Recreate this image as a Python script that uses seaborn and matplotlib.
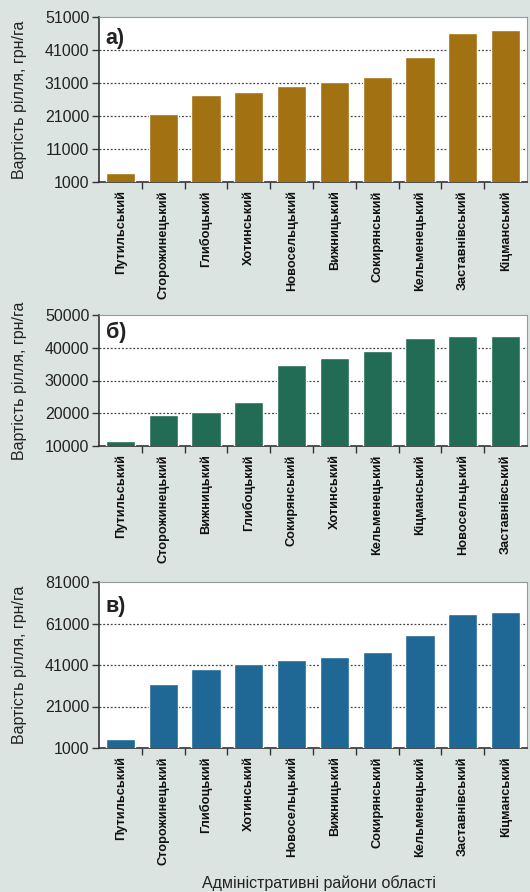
import numpy as np
import pandas as pd
import matplotlib
matplotlib.use("Agg")
import matplotlib.pyplot as plt
import seaborn as sns
from matplotlib.ticker import FixedLocator

sns.set_theme(style="white")
plt.rcParams['font.family'] = ['Liberation Sans', 'DejaVu Sans']

# ---- data ----
cats_a = ["Путильський", "Сторожинецький", "Глибоцький", "Хотинський", "Новосельцький",
          "Вижницький", "Сокирянський", "Кельменецький", "Заставнівський", "Кіцманський"]
vals_a = [3600, 21600, 27400, 28300, 30100, 31300, 32800, 38900, 46200, 47100]
ticks_a = [1000, 11000, 21000, 31000, 41000, 51000]

cats_b = ["Путильський", "Сторожинецький", "Вижницький", "Глибоцький", "Сокирянський",
          "Хотинський", "Кельменецький", "Кіцманський", "Новосельцький", "Заставнівський"]
vals_b = [11600, 19400, 20300, 23400, 34700, 36800, 39000, 43000, 43600, 43600]
ticks_b = [10000, 20000, 30000, 40000, 50000]

cats_c = ["Путильський", "Сторожинецький", "Глибоцький", "Хотинський", "Новосельцький",
          "Вижницький", "Сокирянський", "Кельменецький", "Заставнівський", "Кіцманський"]
vals_c = [5200, 31800, 39100, 41500, 43400, 44900, 47300, 55500, 65700, 66600]
ticks_c = [1000, 21000, 41000, 61000, 81000]

panel_labels = ["а)", "б)", "в)"]
ylabel = "Вартість рілля, грн/га"
xlabel = "Адміністративні райони області"

colors = ["#a27111", "#226b55", "#1f6895"]
bg = "#dbe4e0"

W, H = 530, 892
fig = plt.figure(figsize=(W / 100, H / 100), dpi=100, facecolor=bg)

# axes boxes in pixels: left, top, right, bottom
boxes = [(99, 17, 527, 182), (99, 315, 527, 446), (99, 582, 527, 748)]
panels = [(cats_a, vals_a, ticks_a), (cats_b, vals_b, ticks_b), (cats_c, vals_c, ticks_c)]
label_y = [0.87, 0.865, 0.855]

for i, ((cats, vals, ticks), (l, t, r, b)) in enumerate(zip(panels, boxes)):
    ax = fig.add_axes([l / W, 1 - b / H, (r - l) / W, (b - t) / H])
    ax.set_facecolor("white")
    df = pd.DataFrame({"cat": cats, "val": vals})
    sns.barplot(data=df, x="cat", y="val", color=colors[i], saturation=1,
                width=0.68, ax=ax, zorder=3)
    ax.set_xlim(-0.5, len(cats) - 0.5)
    ax.set_ylim(ticks[0], ticks[-1])
    ax.set_yticks(ticks)
    ax.set_yticklabels([str(v) for v in ticks], fontsize=11.5, color="#222222")
    ax.tick_params(axis="y", which="major", direction="out", length=5, width=1,
                   color="#333333", pad=2, left=True)
    # grid lines (dotted) at inner ticks
    for v in ticks[1:-1]:
        ax.axhline(v, color="#444444", lw=0.9, ls=(0, (1.5, 1.5)), zorder=1)
    ax.set_xticks(range(len(cats)))
    ax.set_xticklabels(cats, rotation=90, fontsize=9.2, fontweight="bold",
                       va="top", ha="center", color="#111111")
    ax.tick_params(axis="x", which="major", length=0, pad=6)
    ax.xaxis.set_minor_locator(FixedLocator(np.arange(0.5, len(cats) - 0.5, 1)))
    ax.tick_params(axis="x", which="minor", direction="out", length=5, width=1,
                   color="#333333", bottom=True)
    ax.set_xlabel("")
    ax.set_ylabel("")
    for side in ["left", "bottom"]:
        ax.spines[side].set_color("#333333")
        ax.spines[side].set_linewidth(1.2)
    for side in ["top", "right"]:
        ax.spines[side].set_color("#999999")
        ax.spines[side].set_linewidth(0.8)
    ax.text(0.016, label_y[i], panel_labels[i], transform=ax.transAxes, fontsize=15.5,
            fontweight="bold", ha="left", va="center", color="#222222")
    # y label
    fig.text(20 / W, 1 - (t + b) / 2 / H, ylabel, rotation=90, ha="center", va="center",
             fontsize=11.5, color="#222222")

fig.text(319 / W, 1 - 883 / H, xlabel, ha="center", va="center", fontsize=11.5,
         color="#222222")

fig.savefig("out.png", dpi=100, facecolor=bg)
